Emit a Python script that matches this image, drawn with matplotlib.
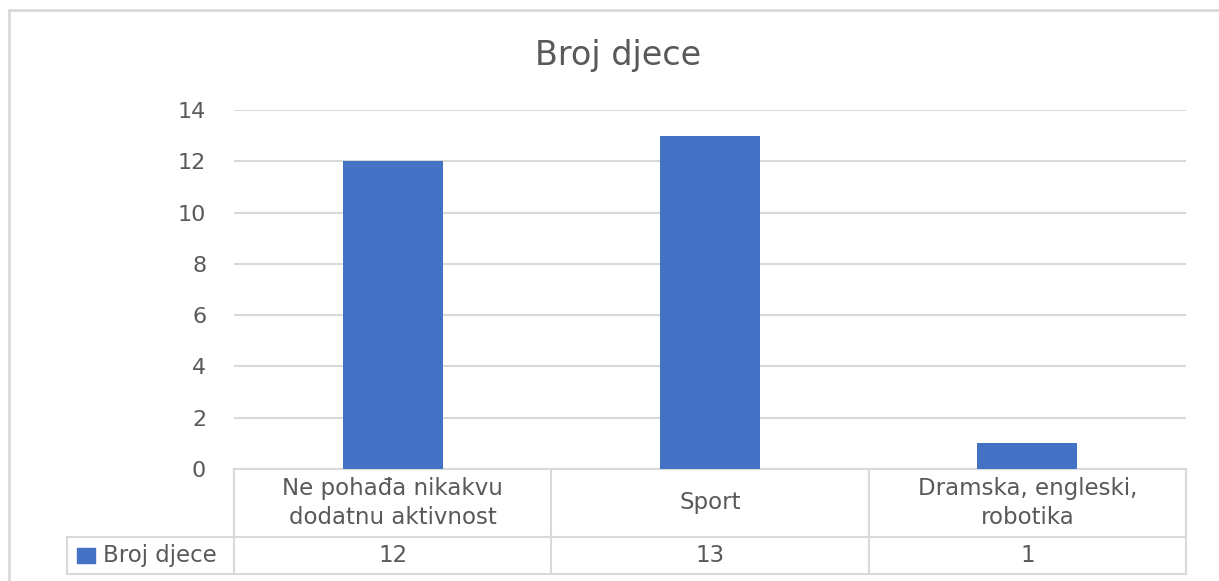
import matplotlib.pyplot as plt
from matplotlib.lines import Line2D
from matplotlib.patches import Rectangle
import matplotlib.transforms as mtransforms

plt.rcParams['font.family'] = ['DejaVu Sans']

# Data
categories = ["Ne pohađa nikakvu\ndodatnu aktivnost", "Sport", "Dramska, engleski,\nrobotika"]
values = [12, 13, 1]
series_name = "Broj djece"
yticks = [0, 2, 4, 6, 8, 10, 12, 14]

bar_color = "#4472C4"
grid_color = "#D9D9D9"
text_color = "#595959"

W, H = 1219, 581
fig = plt.figure(figsize=(W / 100, H / 100), dpi=100)
ax = fig.add_axes([234 / W, 1 - 469 / H, (1186 - 234) / W, (469 - 110) / H])

x = list(range(len(categories)))
ax.bar(x, values, width=0.315, color=bar_color, zorder=3)

ax.set_xlim(-0.5, len(categories) - 0.5)
ax.set_ylim(0, 14)
ax.set_yticks(yticks)
ax.set_yticklabels([str(t) for t in yticks], fontsize=16, color=text_color)
ax.tick_params(axis='y', length=0, pad=20)
ax.set_xticks([])
ax.grid(axis='y', color=grid_color, linewidth=1.5, zorder=0)
for s in ["top", "right", "left"]:
    ax.spines[s].set_visible(False)
ax.spines["bottom"].set_color(grid_color)
ax.spines["bottom"].set_linewidth(1.5)

# Title
fig.text(618 / W, 1 - 55 / H, "Broj djece", ha="center", va="center",
         fontsize=24, color=text_color)

# Data table below the axis (x in data coords, y in axes coords)
tr = mtransforms.blended_transform_factory(ax.transData, ax.transAxes)
row1_bot = -0.189
row2_bot = -0.2925
left_col = -1.025
n = len(categories)

def tline(xs, ys):
    ax.add_line(Line2D(xs, ys, transform=tr, color=grid_color, linewidth=1.5,
                       clip_on=False, zorder=1))

tline([left_col, n - 0.5], [row1_bot, row1_bot])
tline([left_col, n - 0.5], [row2_bot, row2_bot])
tline([left_col, left_col], [row1_bot, row2_bot])
for b in [i - 0.5 for i in range(n + 1)]:
    tline([b, b], [0, row2_bot])

for i, cat in enumerate(categories):
    ax.text(i, row1_bot / 2, cat, transform=tr, ha="center", va="center",
            fontsize=16.5, color=text_color, linespacing=1.3, clip_on=False)
    ax.text(i, (row1_bot + row2_bot) / 2, str(values[i]), transform=tr,
            ha="center", va="center", fontsize=16.5, color=text_color, clip_on=False)

# legend key in the table
ax.add_patch(Rectangle((-0.995, -0.262), 0.057, 0.042,
                       transform=tr, color=bar_color, clip_on=False))
ax.text(-0.913, (row1_bot + row2_bot) / 2, series_name, transform=tr,
        ha="left", va="center", fontsize=16.5, color=text_color, clip_on=False)

# outer chart frame (partly cropped)
fig.add_artist(Line2D([9 / W, 9 / W], [0, 1 - 10 / H], transform=fig.transFigure,
                      color=grid_color, linewidth=2))
fig.add_artist(Line2D([9 / W, 1], [1 - 10 / H, 1 - 10 / H], transform=fig.transFigure,
                      color=grid_color, linewidth=2))

fig.savefig("out.png", dpi=100)
